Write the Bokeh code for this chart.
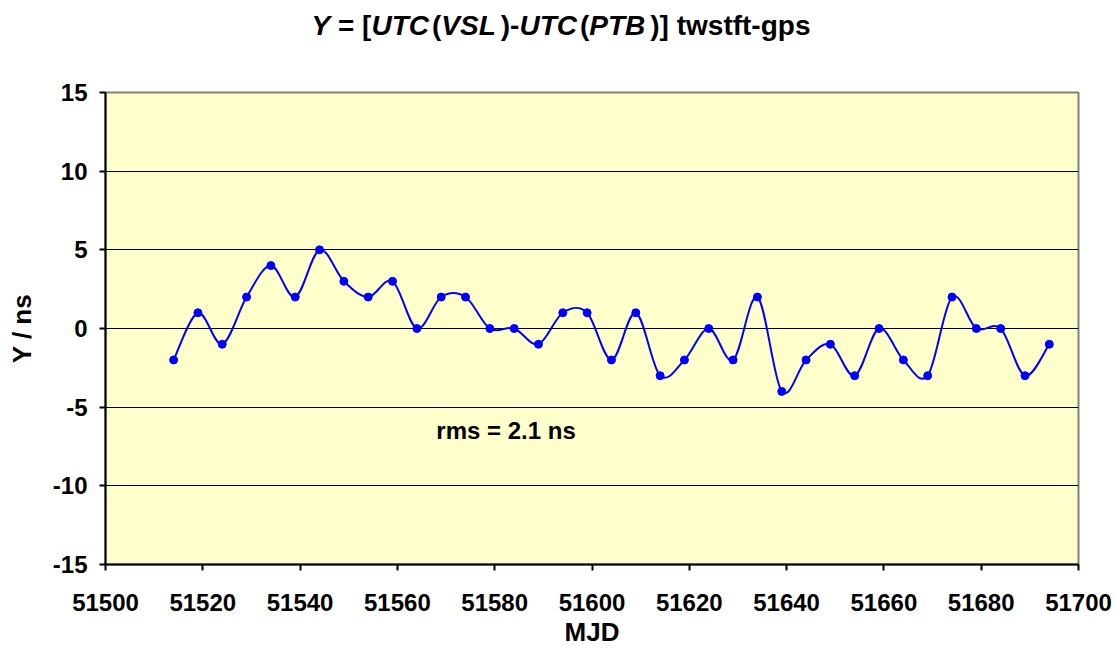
import numpy as np
from bokeh.plotting import figure
from bokeh.models import Range1d, FixedTicker, Label, Div
from bokeh.layouts import column
from bokeh.embed import file_html
from bokeh.resources import INLINE

# ---- data ----
mjd = [51514, 51519, 51524, 51529, 51534, 51539, 51544, 51549, 51554, 51559,
       51564, 51569, 51574, 51579, 51584, 51589, 51594, 51599, 51604, 51609,
       51614, 51619, 51624, 51629, 51634, 51639, 51644, 51649, 51654, 51659,
       51664, 51669, 51674, 51679, 51684, 51689, 51694]
y_ns = [-2, 1, -1, 2, 4, 2, 5, 3, 2, 3,
        0, 2, 2, 0, 0, -1, 1, 1, -2, 1,
        -3, -2, 0, -2, 2, -4, -2, -1, -3, 0,
        -2, -3, 2, 0, 0, -3, -1]
x_ticks = [51500, 51520, 51540, 51560, 51580, 51600, 51620, 51640, 51660, 51680, 51700]
y_ticks = [-15, -10, -5, 0, 5, 10, 15]
rms_text = "rms = 2.1 ns"

FONT = "Liberation Sans"
BLUE = "#0000FF"
W_TOTAL, H_TOTAL = 1117, 656
TITLE_H = 44

p = figure(width=W_TOTAL, height=H_TOTAL - TITLE_H,
           min_border_left=105, min_border_right=39, min_border_top=92 - TITLE_H,
           min_border_bottom=92,
           x_range=Range1d(51500, 51700), y_range=Range1d(-15, 15),
           output_backend="svg", toolbar_location=None)
p.background_fill_color = "#FFFFCC"
p.border_fill_color = "white"
p.outline_line_color = "#808080"
p.outline_line_width = 2

p.xgrid.visible = False
p.ygrid.ticker = FixedTicker(ticks=[-10, -5, 0, 5, 10])
p.ygrid.grid_line_color = "black"
p.ygrid.grid_line_width = 1
p.ygrid.grid_line_alpha = 1.0

for ax, ticks in ((p.xaxis[0], x_ticks), (p.yaxis[0], y_ticks)):
    ax.ticker = FixedTicker(ticks=ticks)
    ax.minor_tick_line_color = None
    ax.major_tick_in = 0
    ax.major_tick_out = 6
    ax.major_tick_line_width = 2
    ax.major_tick_line_color = "black"
    ax.axis_line_width = 2
    ax.axis_line_color = "black"
    ax.major_label_text_font = FONT
    ax.major_label_text_font_style = "bold"
    ax.major_label_text_font_size = "24px"
    ax.major_label_text_color = "black"
    ax.axis_label_text_font = FONT
    ax.axis_label_text_font_style = "bold"
    ax.axis_label_text_font_size = "26px"
    ax.axis_label_text_color = "black"

p.yaxis.major_label_overrides = {t: str(t) for t in y_ticks}
p.xaxis.axis_label = "MJD"
p.yaxis.axis_label = "Y / ns"
p.xaxis.major_label_standoff = 23
p.yaxis.major_label_standoff = 12
p.xaxis.axis_label_standoff = 3
p.yaxis.axis_label_standoff = 13

# smoothed line (cubic Bezier segments, spreadsheet-style smoothing)
x = np.array(mjd, dtype=float)
y = np.array(y_ns, dtype=float)
xp = np.concatenate([[x[0]], x, [x[-1]]])
yp = np.concatenate([[y[0]], y, [y[-1]]])
n = len(x)
x0 = xp[1:n]; y0 = yp[1:n]
x1 = xp[2:n + 1]; y1 = yp[2:n + 1]
cx0 = x0 + (xp[2:n + 1] - xp[0:n - 1]) / 6.0
cy0 = y0 + (yp[2:n + 1] - yp[0:n - 1]) / 6.0
cx1 = x1 - (xp[3:n + 2] - xp[1:n]) / 6.0
cy1 = y1 - (yp[3:n + 2] - yp[1:n]) / 6.0
p.bezier(x0=x0, y0=y0, x1=x1, y1=y1, cx0=cx0, cy0=cy0, cx1=cx1, cy1=cy1,
         line_color=BLUE, line_width=2)
p.scatter(mjd, y_ns, size=8, color=BLUE)

p.add_layout(Label(x=51568.0, y=-6.5, text=rms_text, text_font=FONT,
                   text_font_style="bold", text_font_size="24px",
                   text_baseline="middle", text_color="black"))

# ---- title with mixed italic parts ----
title_html = (
    '<div style="font-family:\'Liberation Sans\',Arial,sans-serif;font-weight:bold;'
    'font-size:28px;line-height:28px;text-align:center;white-space:nowrap;'
    f'width:{W_TOTAL}px;padding-top:12px;padding-left:5px;box-sizing:border-box;color:black;">'
    '<i>Y</i> = [<i style="margin-right:3px">UTC</i>(<i style="margin-right:5px">VSL</i>)-'
    '<i style="margin-right:3px">UTC</i>(<i style="margin-right:5px">PTB</i>)] twstft-gps</div>'
)
title = Div(text=title_html, width=W_TOTAL, height=TITLE_H, margin=0)

layout = column(title, p, spacing=0)
open("out.html", "w").write(file_html(layout, INLINE))
